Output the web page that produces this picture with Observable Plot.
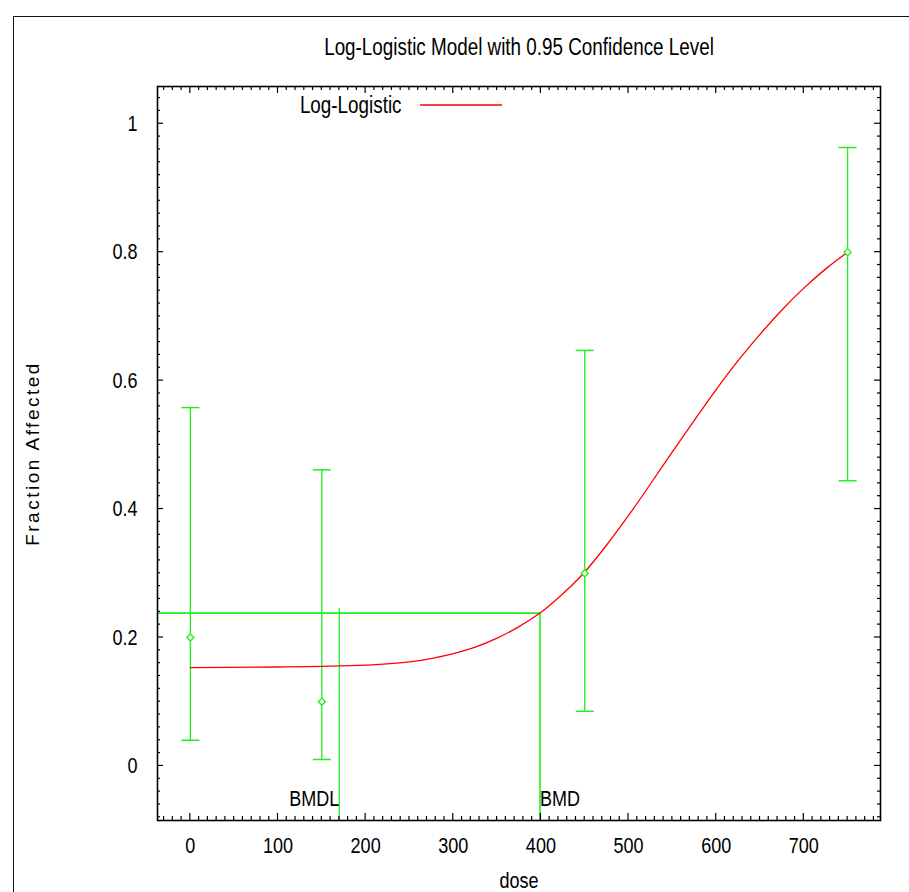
<!DOCTYPE html>
<html>
<head>
<meta charset="utf-8">
<script src="https://cdn.jsdelivr.net/npm/d3@7"></script>
<script src="https://cdn.jsdelivr.net/npm/@observablehq/plot@0.6"></script>
<style>
  html, body { margin: 0; padding: 0; background: #fff; overflow: hidden; }
  #page { position: relative; width: 909px; height: 892px; }
  #border { position: absolute; left: 13px; top: 16px; width: 2000px; height: 2000px;
            border: 1.5px solid #111; box-sizing: border-box; }
  #chart { position: absolute; left: 0; top: 0; }
</style>
</head>
<body>
<div id="page">
  <div id="border"></div>
  <div id="chart"></div>
</div>
<script>
// Observed dose groups and fraction affected
const doses = [0, 150, 450, 750];
const fractions = [0.2, 0.1, 0.3, 0.8];
// 95% confidence limits for each group
const lowerCL = [0.040, 0.010, 0.085, 0.444];
const upperCL = [0.558, 0.461, 0.647, 0.963];

// Fitted log-logistic curve
const curveDose = [0, 100, 150, 200, 250, 300, 325, 350, 375, 399, 425, 450, 475, 500, 525, 550, 575, 600, 625, 650, 675, 700, 725, 750];
const curveFrac = [0.153, 0.154, 0.155, 0.157, 0.162, 0.175, 0.185, 0.199, 0.217, 0.238, 0.268, 0.302, 0.344, 0.390, 0.439, 0.489, 0.538, 0.586, 0.631, 0.672, 0.710, 0.744, 0.774, 0.800];

// Benchmark dose and its lower bound
const bmd = 399;
const bmdl = 170;
const bmrLevel = 0.238;
const bmdlTop = 0.245;

// Axes
const xDomain = [-37.5, 787.5];
const yDomain = [-0.085, 1.058];
const xTicks = [0, 100, 200, 300, 400, 500, 600, 700];
const yTicks = [0, 0.2, 0.4, 0.6, 0.8, 1];
const legendLabels = ["Log-Logistic"];

const groups = doses.map((d, i) => ({dose: d, frac: fractions[i], lo: lowerCL[i], hi: upperCL[i]}));
const curve = curveDose.map((d, i) => ({dose: d, frac: curveFrac[i]}));

const green = "#1df01d";
const red = "#ff0000";
const font = "'Liberation Sans', Arial, sans-serif";

// flat horizontal bar used for the error-bar caps
const capSymbol = {
  draw(context, size) {
    const w = Math.sqrt(size / Math.PI);
    context.moveTo(-w, 0);
    context.lineTo(w, 0);
  }
};

// inward ticks on all four sides of the frame (minor every 10 / 0.02)
function frameTicks(index, {x, y}, values, dims) {
  const L = dims.marginLeft, R = dims.width - dims.marginRight;
  const T = dims.marginTop, B = dims.height - dims.marginBottom;
  const g = d3.create("svg:g").attr("stroke", "#000").attr("stroke-width", 1.2);
  for (const i of d3.range(-3, 79)) {
    const px = x(i * 10);
    const len = i % 10 === 0 ? 7 : 4;
    g.append("line").attr("x1", px).attr("x2", px).attr("y1", B).attr("y2", B - len);
    g.append("line").attr("x1", px).attr("x2", px).attr("y1", T).attr("y2", T + len);
  }
  for (const i of d3.range(-4, 53)) {
    const py = y(i / 50);
    const len = i % 10 === 0 ? 6 : 3;
    g.append("line").attr("y1", py).attr("y2", py).attr("x1", L).attr("x2", L + len);
    g.append("line").attr("y1", py).attr("y2", py).attr("x1", R).attr("x2", R - len);
  }
  return g.node();
}

// red sample line beside the legend label
function legendSwatch(index, scales, values, dims) {
  const L = dims.marginLeft, T = dims.marginTop;
  return d3.create("svg:line")
    .attr("x1", L + 263).attr("x2", L + 345)
    .attr("y1", T + 19).attr("y2", T + 19)
    .attr("stroke", red).attr("stroke-width", 1.3).node();
}

const chart = Plot.plot({
  width: 909,
  height: 892,
  marginTop: 86,
  marginLeft: 157,
  marginRight: 29,
  marginBottom: 72,
  style: {fontFamily: font, fontSize: "22px", color: "#000", background: "transparent"},
  x: {domain: xDomain, label: null},
  y: {domain: yDomain, label: null},
  marks: [
    Plot.axisX({ticks: xTicks, tickSize: 0, tickPadding: 17, label: null, fontSize: 22}),
    Plot.axisY({ticks: yTicks, tickSize: 0, tickPadding: 20, label: null, fontSize: 22, tickFormat: d => String(d)}),
    // benchmark reference lines
    Plot.ruleY([bmrLevel], {x1: xDomain[0], x2: bmd, stroke: green, strokeWidth: 1.6}),
    Plot.ruleX([bmd], {y1: bmrLevel, y2: yDomain[0], stroke: green, strokeWidth: 1.6}),
    Plot.ruleX([bmdl], {y1: bmdlTop, y2: yDomain[0], stroke: green, strokeWidth: 1.3}),
    // confidence intervals
    Plot.ruleX(groups, {x: "dose", y1: "lo", y2: "hi", stroke: green, strokeWidth: 1.3}),
    Plot.dot(groups, {x: "dose", y: "lo", symbol: capSymbol, r: 9, stroke: green, strokeWidth: 1.5, fill: "none"}),
    Plot.dot(groups, {x: "dose", y: "hi", symbol: capSymbol, r: 9, stroke: green, strokeWidth: 1.5, fill: "none"}),
    // fitted model
    Plot.line(curve, {x: "dose", y: "frac", stroke: red, strokeWidth: 1.3, curve: "monotone-x"}),
    // observed fractions
    Plot.dot(groups, {x: "dose", y: "frac", symbol: "diamond2", r: 3.2, stroke: green, strokeWidth: 1.3, fill: "white"}),
    // BMD / BMDL labels
    Plot.text(["BMDL"], {x: () => bmdl, frameAnchor: "bottom", dy: -22, textAnchor: "end", lineAnchor: "middle", fontSize: 22}),
    Plot.text(["BMD"], {x: () => bmd, frameAnchor: "bottom", dy: -22, textAnchor: "start", lineAnchor: "middle", fontSize: 22}),
    // frame and ticks
    Plot.frame({stroke: "#000", strokeWidth: 1.6}),
    frameTicks,
    // legend
    Plot.text(legendLabels, {frameAnchor: "top-left", dx: 244, dy: 19, textAnchor: "end", lineAnchor: "middle", fontSize: 23}),
    legendSwatch,
    // titles
    Plot.text(["Log-Logistic Model with 0.95 Confidence Level"], {frameAnchor: "top", dy: -39, textAnchor: "middle", lineAnchor: "middle", fontSize: 23}),
    Plot.text(["dose"], {frameAnchor: "bottom", dy: 60, textAnchor: "middle", lineAnchor: "middle", fontSize: 22}),
    Plot.text(["Fraction Affected"], {frameAnchor: "left", dx: -125, rotate: -90, textAnchor: "middle", lineAnchor: "middle", fontSize: 19})
  ]
});

document.getElementById("chart").append(chart);

// condensed lettering for the horizontal labels (scaled about each text's anchor point);
// spaced lettering for the rotated axis title
d3.select(chart).selectAll("text").each(function() {
  if (this.textContent === "Fraction Affected") {
    this.style.letterSpacing = "2.5px";
    return;
  }
  const anchor = getComputedStyle(this).textAnchor;
  const bb = this.getBBox();
  const ax = anchor === "end" ? bb.x + bb.width : anchor === "middle" ? bb.x + bb.width / 2 : bb.x;
  const t = this.getAttribute("transform") || "";
  this.setAttribute("transform", `${t} translate(${ax},0) scale(0.82,1) translate(${-ax},0)`);
});
</script>
</body>
</html>
